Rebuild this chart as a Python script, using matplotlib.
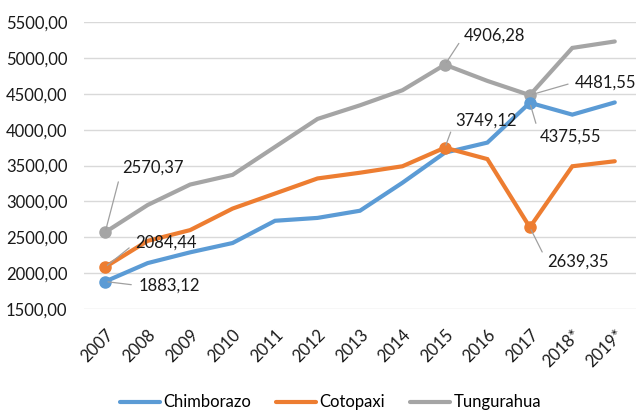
import matplotlib
matplotlib.use("Agg")
import matplotlib.pyplot as plt
from matplotlib.ticker import FuncFormatter

plt.rcParams['font.family'] = ['Lato', 'DejaVu Sans']

years = ["2007", "2008", "2009", "2010", "2011", "2012", "2013",
         "2014", "2015", "2016", "2017", "2018*", "2019*"]
chimborazo = [1883.12, 2140, 2290, 2420, 2730, 2770, 2870, 3260, 3680, 3820, 4375.55, 4210, 4380]
cotopaxi = [2084.44, 2450, 2600, 2900, 3110, 3320, 3400, 3490, 3749.12, 3590, 2639.35, 3490, 3560]
tungurahua = [2570.37, 2950, 3235, 3370, 3760, 4150, 4340, 4550, 4906.28, 4680, 4481.55, 5140, 5230]
yticks = [1500, 2000, 2500, 3000, 3500, 4000, 4500, 5000, 5500]

colors = {"Chimborazo": "#5B9BD5", "Cotopaxi": "#ED7D31", "Tungurahua": "#A5A5A5"}

# labelled points: (series, index, text offset in pixels, ha)
labels = [
    ("Tungurahua", 0, (17, 65), "left"),
    ("Cotopaxi", 0, (30, 24), "left"),
    ("Chimborazo", 0, (33, -4), "left"),
    ("Tungurahua", 8, (19, 29), "left"),
    ("Cotopaxi", 8, (10, 27), "left"),
    ("Tungurahua", 10, (45, 13), "left"),
    ("Chimborazo", 10, (10, -34), "left"),
    ("Cotopaxi", 10, (17, -34), "left"),
]

fig = plt.figure(figsize=(6.36, 4.17), dpi=100)
ax = fig.add_axes([0.132, 0.259, 0.868, 0.688])

data = {"Chimborazo": chimborazo, "Cotopaxi": cotopaxi, "Tungurahua": tungurahua}
x = list(range(len(years)))
for name in ["Chimborazo", "Cotopaxi", "Tungurahua"]:
    ax.plot(x, data[name], color=colors[name], lw=3.0, label=name,
            solid_capstyle='round', solid_joinstyle='miter', zorder=3)

def fmt(v):
    return f"{v:.2f}".replace(".", ",")

FS = 12
for name, i, off, ha in labels:
    v = data[name][i]
    ax.plot([i], [v], 'o', color=colors[name], ms=8, zorder=4)
    ax.annotate(fmt(v), xy=(i, v), xytext=off, textcoords='offset pixels',
                fontsize=FS, ha=ha, va='center', color='#1a1a1a',
                arrowprops=dict(arrowstyle='-', color='#A0A0A0', lw=0.9,
                                shrinkA=3, shrinkB=2, relpos=(0, 0.5)),
                zorder=5)

ax.set_xlim(-0.5, len(years) - 0.5)
ax.set_ylim(yticks[0], yticks[-1])
ax.set_yticks(yticks)
ax.yaxis.set_major_formatter(FuncFormatter(lambda v, p: fmt(v)))
ax.set_xticks(x)
ax.set_xticklabels(years, rotation=45, ha='right', rotation_mode='anchor')
ax.grid(axis='y', color='#D9D9D9', lw=1.0, zorder=0)
ax.set_axisbelow(True)
for s in ax.spines.values():
    s.set_visible(False)
ax.tick_params(axis='both', length=0, labelsize=FS, colors='#1a1a1a')
ax.tick_params(axis='y', pad=12)
ax.tick_params(axis='x', pad=13)

leg = fig.legend(loc='lower center', bbox_to_anchor=(0.52, -0.02), ncol=3,
                 frameon=False, fontsize=FS, handlelength=2.4,
                 columnspacing=1.5, handletextpad=0.2)
for line in leg.get_lines():
    line.set_linewidth(3.0)

fig.savefig("out.png", dpi=100)
